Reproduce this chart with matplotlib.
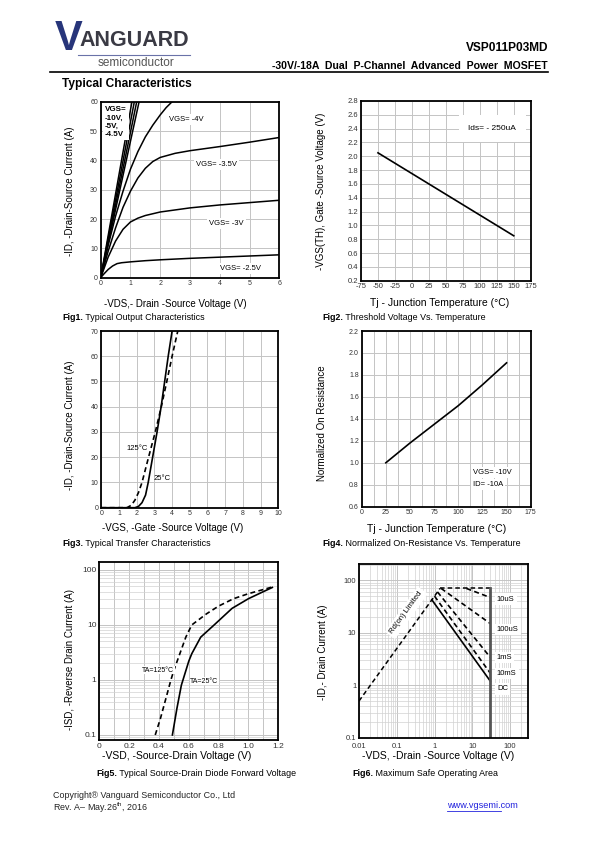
import matplotlib
matplotlib.use("Agg")
from matplotlib import pyplot as plt
from matplotlib.lines import Line2D
from matplotlib.ticker import MultipleLocator, FixedLocator, NullFormatter
import numpy as np

plt.rcParams['font.family'] = ['Liberation Sans', 'DejaVu Sans']
plt.rcParams['mathtext.fontset'] = 'custom'
plt.rcParams['mathtext.rm'] = 'Liberation Sans'
plt.rcParams['axes.unicode_minus'] = False

# ---- data ----
# Fig1 output characteristics
steep_end_vds = [1.05, 1.13, 1.21, 1.29]          # VGS -10/-5/-4.5 lines reach 60 A here
vds_4 = [0, 0.25, 0.5, 0.75, 1, 1.25, 1.5, 1.75, 2, 2.2, 2.4]
id_4 = [0, 11, 21, 29.5, 37, 43, 48, 52, 55.5, 58, 60]
vds_35 = [0, 0.25, 0.5, 0.75, 1, 1.25, 1.5, 1.75, 2, 2.5, 3, 4, 5, 6]
id_35 = [0, 9, 17, 24, 29.5, 34, 37.3, 39.6, 41, 42.4, 43.3, 44.7, 46.2, 47.8]
vds_3 = [0, 0.25, 0.5, 0.75, 1, 1.25, 1.5, 2, 3, 4, 5, 6]
id_3 = [0, 7, 12.5, 16.5, 19, 20.3, 21.2, 22.4, 23.8, 24.8, 25.6, 26.4]
vds_25 = [0, 0.1, 0.25, 0.4, 0.55, 0.7, 1.0, 1.5, 2, 3, 4, 5, 6]
id_25 = [0, 1.2, 2.8, 4.0, 4.8, 5.1, 5.4, 5.8, 6.1, 6.6, 7.0, 7.4, 7.8]

# Fig2 threshold voltage
tj_vth = [-50, 0, 50, 100, 150]
vth = [2.05, 1.75, 1.45, 1.15, 0.85]

# Fig3 transfer characteristics
vgs_t25 = [0, 1.9, 2.1, 2.3, 2.5, 2.65, 2.9, 3.15, 3.38, 3.58, 3.78, 4.0]
id_t25 = [0, 0, 0.5, 2, 5, 10, 20, 30, 40, 50, 60, 70]
vgs_t125 = [0, 1.45, 1.7, 1.9, 2.1, 2.3, 2.67, 3.05, 3.39, 3.7, 4.0, 4.32]
id_t125 = [0, 0, 1, 3, 6, 10, 20, 30, 40, 50, 60, 70]

# Fig4 normalized on-resistance
tj_rn = [25, 50, 75, 100, 125, 150]
rdson_n = [1.0, 1.18, 1.35, 1.52, 1.71, 1.91]

# Fig5 body diode
vsd_125 = [0.375, 0.41, 0.45, 0.48, 0.5, 0.54, 0.58, 0.62, 0.72, 0.8, 0.9, 1.0, 1.1, 1.16]
isd_125 = [0.1, 0.2, 0.5, 1, 1.5, 3, 6, 10, 16, 22, 30, 37, 44, 49]
vsd_25 = [0.49, 0.52, 0.55, 0.57, 0.6, 0.62, 0.68, 0.77, 0.89, 1.0, 1.08, 1.16]
isd_25 = [0.1, 0.3, 0.8, 1.2, 2.2, 3, 6, 10, 20, 30, 38, 48]

# Fig6 SOA
rds_vds, rds_id = [0.01, 1.4], [0.5, 70]
top_vds, top_id = [1.4, 30], [70, 70]
soa_vds = {'10uS': [7, 30], '100uS': [1.5, 30], '1mS': [1.2, 30], '10mS': [1.0, 30], 'DC': [0.85, 30]}
soa_id = {'10uS': [70, 47], '100uS': [70, 15], '1mS': [60, 3.4], '10mS': [50, 1.7], 'DC': [42.5, 1.2]}
soa_lbl_y = {'10uS': 44, '100uS': 11.5, '1mS': 3.4, '10mS': 1.65, 'DC': 0.85}
vds_max = 30

W, H = 595, 842
fig = plt.figure(figsize=(W / 100, H / 100), dpi=100)


def box(l, t, r, b):
    return fig.add_axes([l / W, 1 - b / H, (r - l) / W, (b - t) / H])


def px(x, y, s, **kw):
    kw.setdefault('va', 'center')
    return fig.text(x / W, 1 - y / H, s, **kw)


def hline(x0, x1, y, **kw):
    fig.add_artist(Line2D([x0 / W, x1 / W], [1 - y / H, 1 - y / H], **kw))


def style(ax, fs=5):
    for sp in ax.spines.values():
        sp.set_linewidth(1.3)
        sp.set_color('black')
    ax.tick_params(which='both', length=0, labelsize=fs, labelcolor='#333333', pad=2)
    ax.grid(True, which='major', color='#c4c4c4', lw=0.7)
    ax.grid(True, which='minor', color='#d2d2d2', lw=0.5)
    ax.set_axisbelow(True)


def caption(x, y, num, rest):
    t = px(x, y, num, fontsize=6.4, fontweight='bold')
    fig.axes[0].annotate(' ' + rest, xy=(1, 0.5), xycoords=t, va='center', ha='left',
                         fontsize=6.4, annotation_clip=False)


WB = dict(facecolor='white', edgecolor='none', pad=1.5)

# ---- header ----
px(55, 39, 'V', fontsize=30, fontweight='bold', color='#27357a')
px(79, 41, 'ANGUARD', fontsize=15.5, fontweight='bold', color='#3a3a44',
   family=['Liberation Sans Narrow', 'Liberation Sans'])
hline(78, 190, 55, color='#6a72a8', lw=0.8)
px(98, 63, 'semiconductor', fontsize=8.5, color='#555555')
px(548, 48, 'VSP011P03MD', fontsize=8.6, fontweight='bold', ha='right')
px(548, 66, '-30V/-18A  Dual  P-Channel  Advanced  Power  MOSFET', fontsize=7.6,
   fontweight='bold', ha='right')
hline(50, 548, 71.5, color='black', lw=1.2)
px(62, 84, 'Typical Characteristics', fontsize=8.6, fontweight='bold')

# ---- Fig1 ----
ax1 = box(100.7, 101.7, 279.3, 277.7)
style(ax1)
ax1.set_xlim(0, 6)
ax1.set_ylim(0, 60)
ax1.xaxis.set_major_locator(MultipleLocator(1))
ax1.yaxis.set_major_locator(MultipleLocator(10))
for e in steep_end_vds:
    ax1.plot([0, e], [0, 60], color='black', lw=1.1)
for xs, ys in [(vds_4, id_4), (vds_35, id_35), (vds_3, id_3), (vds_25, id_25)]:
    ax1.plot(xs, ys, color='black', lw=1.1)
ax1.text(0.15, 58.5, 'VGS=\n-10V,\n-5V,\n-4.5V', fontsize=5.8, fontweight='bold', va='top',
         linespacing=1.25, bbox=WB)
ax1.text(2.3, 53.8, 'VGS= -4V', fontsize=5.5, va='center', bbox=WB)
ax1.text(3.2, 38.5, 'VGS= -3.5V', fontsize=5.5, va='center', bbox=WB)
ax1.text(3.65, 18.6, 'VGS= -3V', fontsize=5.5, va='center', bbox=WB)
ax1.text(4.0, 3.2, 'VGS= -2.5V', fontsize=5.5, va='center', bbox=WB)
px(175, 304, '-VDS,- Drain -Source Voltage (V)', fontsize=7, ha='center')
px(70, 191, '-ID, -Drain-Source Current (A)', fontsize=7, ha='center', rotation=90)
caption(62, 317, 'Fig1.', 'Typical Output Characteristics')

# ---- Fig2 ----
ax2 = box(361, 101, 530.7, 280.7)
style(ax2, 5.5)
ax2.set_xlim(-75, 175)
ax2.set_ylim(0.2, 2.8)
ax2.xaxis.set_major_locator(MultipleLocator(25))
ax2.yaxis.set_major_locator(MultipleLocator(0.2))
ax2.yaxis.set_major_formatter(lambda v, p: f'{v:.1f}')
ax2.plot(tj_vth, vth, color='black', lw=1.2)
ax2.text(83, 2.4, 'Ids= - 250uA', fontsize=6, va='center',
         bbox=dict(facecolor='white', edgecolor='none', pad=7))
px(440, 303, 'Tj - Junction Temperature (°C)', fontsize=7.5, ha='center')
px(321, 191, '-VGS(TH), Gate -Source Voltage (V)', fontsize=7, ha='center', rotation=90)
caption(322, 317, 'Fig2.', 'Threshold Voltage Vs. Temperature')

# ---- Fig3 ----
ax3 = box(101.3, 331, 278.3, 507.7)
style(ax3)
ax3.set_xlim(0, 10)
ax3.set_ylim(0, 70)
ax3.xaxis.set_major_locator(MultipleLocator(1))
ax3.yaxis.set_major_locator(MultipleLocator(10))
ax3.plot(vgs_t25, id_t25, color='black', lw=1.2)
ax3.plot(vgs_t125, id_t125, color='black', lw=1.2, ls=(0, (3, 2)))
ax3.text(1.4, 23.5, '125°C', fontsize=5.5, va='center')
ax3.text(2.95, 11.5, '25°C', fontsize=5.5, va='center')
px(173, 528, '-VGS, -Gate -Source Voltage (V)', fontsize=7, ha='center')
px(70, 425, '-ID, -Drain-Source Current (A)', fontsize=7, ha='center', rotation=90)
caption(62, 544, 'Fig3.', 'Typical Transfer Characteristics')

# ---- Fig4 ----
ax4 = box(361.7, 331, 530.7, 506.7)
style(ax4)
ax4.set_xlim(0, 175)
ax4.set_ylim(0.6, 2.2)
ax4.xaxis.set_major_locator(MultipleLocator(25))
ax4.xaxis.set_minor_locator(MultipleLocator(12.5))
ax4.yaxis.set_major_locator(MultipleLocator(0.2))
ax4.yaxis.set_major_formatter(lambda v, p: f'{v:.1f}')
ax4.grid(True, which='minor', color='#c4c4c4', lw=0.7)
ax4.plot(tj_rn, rdson_n, color='black', lw=1.2)
ax4.text(115, 0.91, 'VGS= -10V', fontsize=5.5, va='center', bbox=WB)
ax4.text(115, 0.80, 'ID= -10A', fontsize=5.5, va='center', bbox=WB)
px(437, 529, 'Tj - Junction Temperature (°C)', fontsize=7.5, ha='center')
px(322, 423, 'Normalized On Resistance', fontsize=7, ha='center', rotation=90)
caption(322, 544, 'Fig4.', 'Normalized On-Resistance Vs. Temperature')

# ---- Fig5 ----
ax5 = box(99.3, 561.7, 278.3, 740)
style(ax5, 6)
ax5.set_yscale('log')
ax5.set_xlim(0, 1.2)
ax5.set_ylim(0.081, 141)
ax5.xaxis.set_major_locator(MultipleLocator(0.2))
ax5.xaxis.set_minor_locator(MultipleLocator(0.1))
ax5.xaxis.set_major_formatter(lambda v, p: '0' if v == 0 else f'{v:.1f}')
ax5.yaxis.set_major_locator(FixedLocator([0.1, 1, 10, 100]))
ax5.yaxis.set_major_formatter(lambda v, p: f'{v:g}')
ax5.yaxis.set_minor_formatter(NullFormatter())
ax5.grid(True, which='minor', axis='x', color='#c4c4c4', lw=0.7)
ax5.plot(vsd_25, isd_25, color='black', lw=1.2)
ax5.plot(vsd_125, isd_125, color='black', lw=1.2, ls=(0, (3, 2)))
ax5.text(0.5, 1.5, 'TA=125°C', fontsize=5, va='center', ha='right',
         bbox=dict(facecolor='white', edgecolor='none', pad=0.5))
ax5.text(0.61, 0.95, 'TA=25°C', fontsize=5, va='center',
         bbox=dict(facecolor='white', edgecolor='none', pad=0.5))
px(177, 756, '-VSD, -Source-Drain Voltage (V)', fontsize=7.5, ha='center')
px(70, 660, '-ISD, -Reverse Drain Current (A)', fontsize=7, ha='center', rotation=90)
caption(96, 773, 'Fig5.', 'Typical Source-Drain Diode Forward Voltage')

# ---- Fig6 ----
ax6 = box(359, 564.3, 528.3, 737.7)
style(ax6, 5.5)
ax6.set_xscale('log')
ax6.set_yscale('log')
ax6.set_xlim(0.01, 305)
ax6.set_ylim(0.1, 202)
ax6.xaxis.set_major_locator(FixedLocator([0.01, 0.1, 1, 10, 100]))
ax6.xaxis.set_major_formatter(lambda v, p: f'{v:g}')
ax6.xaxis.set_minor_formatter(NullFormatter())
ax6.yaxis.set_major_locator(FixedLocator([0.1, 1, 10, 100]))
ax6.yaxis.set_major_formatter(lambda v, p: f'{v:g}')
ax6.yaxis.set_minor_formatter(NullFormatter())
ax6.tick_params(axis='x', pad=3.5)
ax6.plot(rds_vds, rds_id, color='black', lw=1.1, ls=(0, (3, 2)))
ax6.plot(top_vds, top_id, color='black', lw=1.1, ls=(0, (3, 2)))
for k in soa_vds:
    ax6.plot(soa_vds[k], soa_id[k], color='black', lw=1.2,
             ls='-' if k == 'DC' else (0, (3, 2)))
    ax6.text(45, soa_lbl_y[k], k, fontsize=5.5, va='center', bbox=WB)
ax6.plot([vds_max, vds_max], [0.1, 70], color='#555555', lw=2)
ax6.text(0.18, 24, 'Rd(on) Limited', fontsize=5.5, rotation=54, ha='center', va='center',
         bbox=dict(facecolor='white', edgecolor='none', pad=2))
px(438, 756, '-VDS, -Drain -Source Voltage (V)', fontsize=7.5, ha='center')
px(323, 652, '-ID,- Drain Current (A)', fontsize=7, ha='center', rotation=90)
caption(352, 773, 'Fig6.', 'Maximum Safe Operating Area')

# ---- footer ----
px(53, 796, 'Copyright® Vanguard Semiconductor Co., Ltd', fontsize=6.4, color='#222222')
px(53, 808, 'Rev. A– May.26$^{\\mathregular{th}}$, 2016', fontsize=6.4, color='#222222')
px(447, 806, 'www.vgsemi.com', fontsize=6.6, color='#2222dd')
hline(447, 501, 810.5, color='#2222dd', lw=0.6)

fig.savefig('out.png', dpi=100)
